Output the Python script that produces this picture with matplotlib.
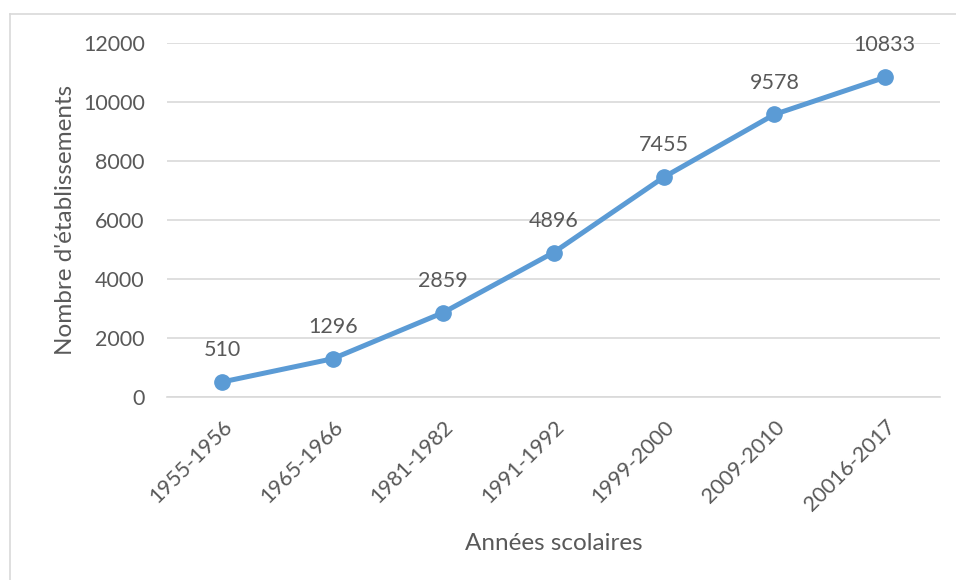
import matplotlib.pyplot as plt
from matplotlib.lines import Line2D

# Nombre d'établissements par année scolaire
annees = ['1955-1956', '1965-1966', '1981-1982', '1991-1992',
          '1999-2000', '2009-2010', '20016-2017']
etablissements = [510, 1296, 2859, 4896, 7455, 9578, 10833]
yticks = [0, 2000, 4000, 6000, 8000, 10000, 12000]

plt.rcParams['font.family'] = ['Lato', 'DejaVu Sans']
grey = '#595959'
blue = '#5B9BD5'

fig = plt.figure(figsize=(9.56, 5.8), dpi=100)
ax = fig.add_axes([167 / 956, 1 - 397 / 580, (940 - 167) / 956, (397 - 43) / 580])

x = list(range(len(annees)))
ax.plot(x, etablissements, color=blue, linewidth=3.6, marker='o',
        markersize=11, zorder=3, solid_capstyle='round')

# étiquettes de données au-dessus des points
for xi, v in zip(x, etablissements):
    ax.annotate(str(v), (xi, v), xytext=(0, 23), textcoords='offset points',
                ha='center', va='center', fontsize=15.5, color=grey)

ax.set_xlim(-0.5, len(annees) - 0.5)
ax.set_ylim(0, 12000)
ax.set_yticks(yticks)
ax.set_yticklabels([str(t) for t in yticks], fontsize=15.5, color=grey)
ax.set_xticks(x)
ax.set_xticklabels(annees, fontsize=15.5, color=grey, rotation=45,
                   ha='right', rotation_mode='anchor')

ax.grid(axis='y', color='#D9D9D9', linewidth=1.2)
ax.set_axisbelow(True)
for s in ['top', 'right', 'left']:
    ax.spines[s].set_visible(False)
ax.spines['bottom'].set_color('#D9D9D9')
ax.spines['bottom'].set_linewidth(1.2)
ax.tick_params(axis='y', length=0, pad=16)
ax.tick_params(axis='x', length=0, pad=14)

ax.set_ylabel("Nombre d'établissements", fontsize=17.5, color=grey, labelpad=5)
ax.set_xlabel('Années scolaires', fontsize=17.5, color=grey, labelpad=13)

# cadre du graphique (bords gauche et haut)
fig.add_artist(Line2D([10 / 956, 10 / 956], [0, 1 - 14 / 580],
                      transform=fig.transFigure, color='#D9D9D9', linewidth=1.2))
fig.add_artist(Line2D([10 / 956, 1], [1 - 14 / 580, 1 - 14 / 580],
                      transform=fig.transFigure, color='#D9D9D9', linewidth=1.2))

fig.savefig('out.png', dpi=100)
